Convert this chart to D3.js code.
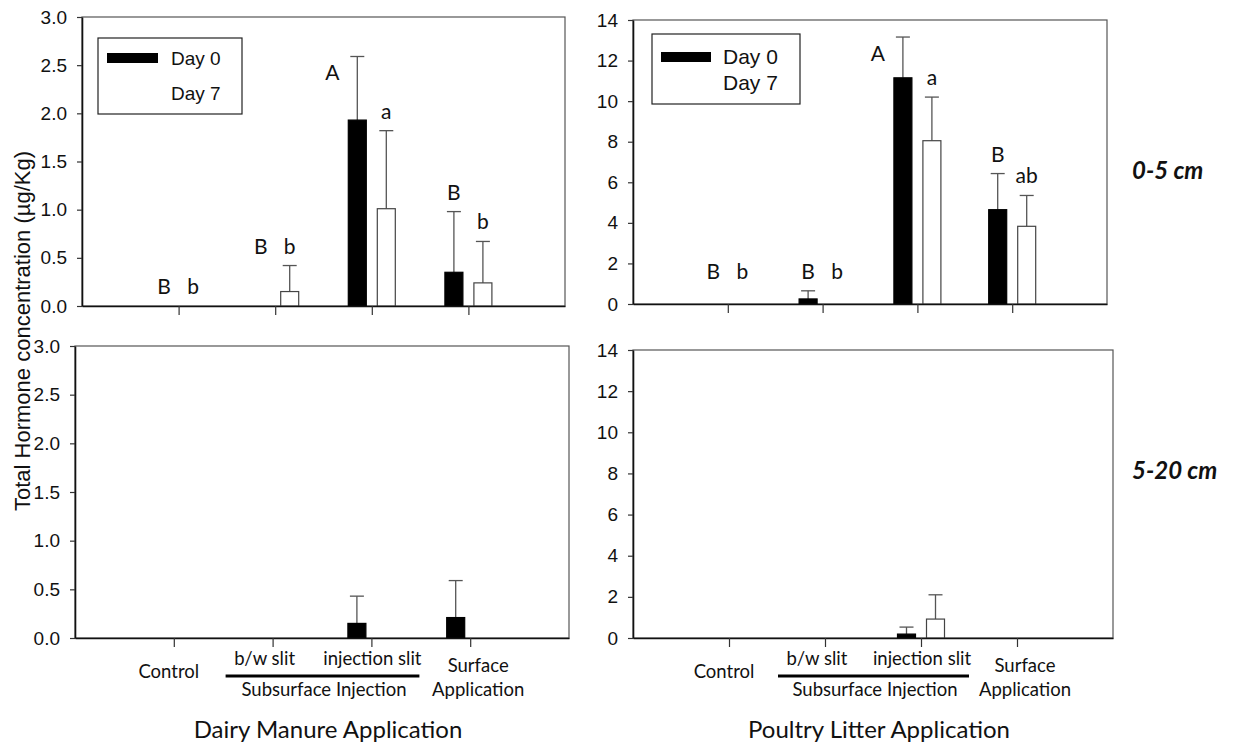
<!DOCTYPE html>
<html>
<head>
<meta charset="utf-8">
<script src="https://cdn.jsdelivr.net/npm/d3@7"></script>
<style>
  body { margin: 0; background: #fff; }
  svg { display: block; }
  .cal { font-family: Lato, "Open Sans", sans-serif; fill: #111; }
</style>
</head>
<body>
<div id="chart"></div>
<script>
// Data
const categories = ['Control', 'b/w slit', 'injection slit', 'Surface Application'];
const series = ['Day 0', 'Day 7'];

const dairyTopDay0 = [0, 0, 1.93, 0.35];
const dairyTopDay0Err = [0, 0, 0.66, 0.63];
const dairyTopDay7 = [0, 0.15, 1.01, 0.24];
const dairyTopDay7Err = [0, 0.27, 0.81, 0.43];
const dairyTopLetters = [['B', 'b'], ['B', 'b'], ['A', 'a'], ['B', 'b']];

const poultryTopDay0 = [0, 0.25, 11.15, 4.65];
const poultryTopDay0Err = [0, 0.4, 2.01, 1.78];
const poultryTopDay7 = [0, 0, 8.05, 3.83];
const poultryTopDay7Err = [0, 0, 2.15, 1.52];
const poultryTopLetters = [['B', 'b'], ['B', 'b'], ['A', 'a'], ['B', 'ab']];

const dairyBotDay0 = [0, 0, 0.15, 0.21];
const dairyBotDay0Err = [0, 0, 0.28, 0.38];
const dairyBotDay7 = [0, 0, 0, 0];
const dairyBotDay7Err = [0, 0, 0, 0];

const poultryBotDay0 = [0, 0, 0.19, 0];
const poultryBotDay0Err = [0, 0, 0.34, 0];
const poultryBotDay7 = [0, 0, 0.92, 0];
const poultryBotDay7Err = [0, 0, 1.18, 0];

const dairyTicks = [0, 0.5, 1, 1.5, 2, 2.5, 3];
const poultryTicks = [0, 2, 4, 6, 8, 10, 12, 14];
const groupTitles = ['Dairy Manure Application', 'Poultry Litter Application'];
const depthLabels = ['0-5 cm', '5-20 cm'];

// Layout
const W = 1238, H = 742;
const svg = d3.select('#chart').append('svg').attr('width', W).attr('height', H);

const panels = [
  { x0: 82, x1: 565, y0: 17, y1: 306, max: 3, ticks: dairyTicks, fmt: d3.format('.1f'),
    vals: [dairyTopDay0, dairyTopDay7], errs: [dairyTopDay0Err, dairyTopDay7Err], letters: dairyTopLetters,
    zeroLift: 12, legend: { x: 98, y: 38, w: 144, h: 76, fs: 19, sw: [9, 15, 51, 10], tx: 73, ty: [27, 62] } },
  { x0: 633, x1: 1107, y0: 20, y1: 304, max: 14, ticks: poultryTicks, fmt: d3.format('d'),
    vals: [poultryTopDay0, poultryTopDay7], errs: [poultryTopDay0Err, poultryTopDay7Err], letters: poultryTopLetters,
    zeroLift: 25, legend: { x: 652, y: 34, w: 148, h: 70, fs: 21, sw: [9, 18, 50, 10], tx: 71, ty: [30, 56] } },
  { x0: 75, x1: 569, y0: 346, y1: 638, max: 3, ticks: dairyTicks, fmt: d3.format('.1f'),
    vals: [dairyBotDay0, dairyBotDay7], errs: [dairyBotDay0Err, dairyBotDay7Err], bottom: 0 },
  { x0: 633, x1: 1113, y0: 350, y1: 638, max: 14, ticks: poultryTicks, fmt: d3.format('d'),
    vals: [poultryBotDay0, poultryBotDay7], errs: [poultryBotDay0Err, poultryBotDay7Err], bottom: 1 }
];

const BAR_OFF = 14.5, BAR_W = 18, CAP = 7;

panels.forEach(p => {
  const x = d3.scaleLinear().domain([0, 5]).range([p.x0, p.x1]);
  const y = d3.scaleLinear().domain([0, p.max]).range([p.y1, p.y0]);
  const g = svg.append('g');

  // frame
  g.append('rect')
    .attr('x', p.x0).attr('y', p.y0)
    .attr('width', p.x1 - p.x0).attr('height', p.y1 - p.y0)
    .attr('fill', 'none').attr('stroke', '#555').attr('stroke-width', 1.2);

  const bars = [];
  p.vals.forEach((arr, s) => arr.forEach((v, i) => {
    bars.push({ s, i, v, e: p.errs[s][i], cx: x(i + 1) + (s === 0 ? -BAR_OFF : BAR_OFF) });
  }));

  // error bars (upper only)
  const eb = g.selectAll('g.err').data(bars.filter(d => d.e > 0)).join('g').attr('class', 'err')
    .attr('stroke', '#555').attr('stroke-width', 1.3);
  eb.append('line').attr('x1', d => d.cx).attr('x2', d => d.cx)
    .attr('y1', d => y(d.v)).attr('y2', d => y(d.v + d.e));
  eb.append('line').attr('x1', d => d.cx - CAP).attr('x2', d => d.cx + CAP)
    .attr('y1', d => y(d.v + d.e)).attr('y2', d => y(d.v + d.e));

  g.selectAll('rect.bar').data(bars.filter(d => d.v > 0)).join('rect').attr('class', 'bar')
    .attr('x', d => d.cx - BAR_W / 2).attr('width', BAR_W)
    .attr('y', d => y(d.v)).attr('height', d => y(0) - y(d.v))
    .attr('fill', d => d.s === 0 ? '#000' : '#fff')
    .attr('stroke', d => d.s === 0 ? '#000' : '#444').attr('stroke-width', 1.2);

  // axes
  const ya = g.append('g').attr('transform', `translate(${p.x0},0)`)
    .call(d3.axisLeft(y).tickValues(p.ticks).tickFormat(p.fmt).tickSize(5).tickSizeOuter(0).tickPadding(10));
  ya.attr('font-size', 19).attr('font-family', '"Liberation Sans", Arial, sans-serif');
  ya.selectAll('.tick text').attr('fill', '#111');
  const xa = g.append('g').attr('transform', `translate(0,${p.y1})`)
    .call(d3.axisBottom(x).tickValues([1, 2, 3, 4]).tickFormat('').tickSize(9).tickSizeOuter(0));
  [ya, xa].forEach(a => {
    a.select('.domain').attr('stroke', '#111').attr('stroke-width', 1.6);
    a.selectAll('.tick line').attr('stroke', '#333').attr('stroke-width', 1.2);
  });

  // significance letters
  if (p.letters) {
    bars.forEach(d => {
      const t = p.letters[d.i][d.s];
      const top = d.v + d.e;
      const partner = bars.find(b => b.i === d.i && b.s !== d.s);
      const pTop = partner.v + partner.e;
      let lx = d.cx, ly;
      if (top > 0) ly = y(top) - 12;
      else if (pTop > 0) ly = y(pTop) - 12;
      else ly = y(0) - p.zeroLift;
      if (ly < p.y0 + 40) { lx = d.cx - 25; ly = y(top) + 24; }
      g.append('text').attr('class', 'cal').attr('x', lx).attr('y', ly)
        .attr('text-anchor', 'middle').attr('font-size', 21).text(t);
    });
  }

  // legend
  if (p.legend) {
    const L = p.legend;
    const lg = g.append('g').attr('transform', `translate(${L.x},${L.y})`);
    lg.append('rect').attr('width', L.w).attr('height', L.h)
      .attr('fill', '#fff').attr('stroke', '#222').attr('stroke-width', 1.2);
    series.forEach((s, k) => {
      lg.append('rect').attr('x', L.sw[0]).attr('y', L.sw[1] + (L.ty[k] - L.ty[0]))
        .attr('width', L.sw[2]).attr('height', L.sw[3]).attr('fill', k === 0 ? '#000' : '#fff');
      lg.append('text').attr('x', L.tx).attr('y', L.ty[k])
        .attr('font-family', '"Liberation Sans", Arial, sans-serif').attr('font-size', L.fs)
        .attr('fill', '#111').text(s);
    });
  }

  // category labels under bottom panels
  if (p.bottom !== undefined) {
    const lab = (txt, cx, by, fs) => g.append('text').attr('class', 'cal')
      .attr('x', cx).attr('y', by).attr('text-anchor', 'middle').attr('font-size', fs).text(txt);
    lab(categories[0], x(1) - 5, 678, 18.5);
    lab(categories[1], x(2) - 8, 665, 18.5);
    lab(categories[2], x(3) + 1, 665, 18.5);
    const parts = categories[3].split(' ');
    lab(parts[0], x(4) + 8, 672, 18.5);
    lab(parts[1], x(4) + 8, 696, 18.5);
    g.append('line').attr('x1', x(2) - 47).attr('x2', x(3) + 48)
      .attr('y1', 676).attr('y2', 676).attr('stroke', '#000').attr('stroke-width', 3);
    lab('Subsurface Injection', (x(2) + x(3)) / 2 + 2, 696, 18.5);
    lab(groupTitles[p.bottom], (x(2) + x(3)) / 2 + 6, 738, 24);
  }
});

// y-axis title
svg.append('text')
  .attr('transform', 'translate(30,331) rotate(-90)')
  .attr('text-anchor', 'middle')
  .attr('font-family', '"Liberation Sans", Arial, sans-serif')
  .attr('font-size', 22).attr('fill', '#111')
  .text('Total Hormone concentration (µg/Kg)');

// depth labels
depthLabels.forEach((t, k) => {
  svg.append('text').attr('class', 'cal')
    .attr('x', 1132).attr('y', k === 0 ? 179 : 479)
    .attr('font-size', 24).attr('font-weight', 'bold').attr('font-style', 'italic')
    .text(t);
});
</script>
</body>
</html>
